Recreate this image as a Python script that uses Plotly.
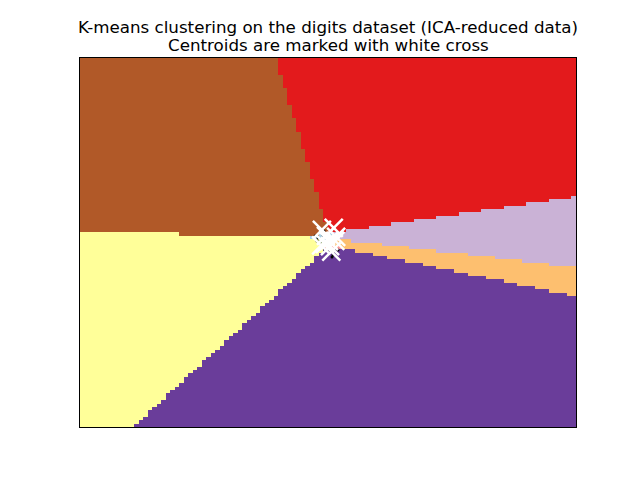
import numpy as np
import plotly.graph_objects as go

# K-means centroids in the ICA-reduced plane, one per cluster label 0..9
centroid_x = [-0.0089, 0.0044, -0.0133, 0.0089, 0.0255, 0.0322, 0.0361, 0.0147, -0.0303, -0.0271]
centroid_y = [0.0388, 0.0089, -0.0089, -0.0209, 0.0866, 0.0091, 0.0337, -0.0540, -0.0178, 0.0747]

# a few of the reduced data points that show between the crosses
point_x = [-0.0577, -0.0444, -0.0355, -0.0222, -0.0133, 0.0089, 0.0222, 0.0311, 0.0444, -0.0177, 0.0177, -0.0488]
point_y = [0.0387, 0.0268, -0.0030, 0.0447, -0.0447, -0.0507, -0.0745, -0.0507, -0.0447, 0.0686, -0.0865, 0.0089]

# mesh extent and step (as in the sklearn demo)
x_min, x_max = -1.1, 1.1
y_min, y_max = -1.1, 1.1
h = 0.02

# matplotlib "Paired" colours as picked by imshow for labels 0..9
label_colors = ["#a6cee3", "#1f78b4", "#b2df8a", "#fb9a99", "#e31a1c",
                "#fdbf6f", "#cab2d6", "#6a3d9a", "#ffff99", "#b15928"]

# decision regions: nearest centroid for every mesh cell
xx = np.arange(x_min, x_max, h) + h / 2
yy = np.arange(y_min, y_max, h) + h / 2
gx, gy = np.meshgrid(xx, yy)
cx, cy = np.array(centroid_x), np.array(centroid_y)
dist = (gx[..., None] - cx) ** 2 + (gy[..., None] - cy) ** 2
Z = dist.argmin(axis=-1)

colorscale = []
for i, c in enumerate(label_colors):
    colorscale += [[i / 10, c], [(i + 1) / 10, c]]

fig = go.Figure()
fig.add_trace(go.Heatmap(x=xx, y=yy, z=Z, zmin=-0.5, zmax=9.5,
                         colorscale=colorscale, showscale=False, hoverinfo="skip"))
fig.add_trace(go.Scatter(x=point_x, y=point_y, mode="markers",
                         marker=dict(size=3, color="black")))
fig.add_trace(go.Scatter(x=centroid_x, y=centroid_y, mode="markers",
                         marker=dict(symbol="x-thin", size=18,
                                     line=dict(width=2.5, color="white"))))

axis = dict(showticklabels=False, ticks="", showgrid=False, zeroline=False,
            showline=True, linecolor="black", linewidth=1, mirror=True)
fig.update_xaxes(range=[x_min, x_max], **axis)
fig.update_yaxes(range=[y_min, y_max], **axis)

title_font = dict(family="DejaVu Sans", size=16.7, color="black")
fig.add_annotation(text="K-means clustering on the digits dataset (ICA-reduced data)",
                   x=0.5, y=1.0827, xref="paper", yref="paper", yanchor="middle",
                   showarrow=False, font=title_font)
fig.add_annotation(text="Centroids are marked with white cross",
                   x=0.5, y=1.0352, xref="paper", yref="paper", yanchor="middle",
                   showarrow=False, font=title_font)

fig.update_layout(width=640, height=480, margin=dict(l=72, r=72, t=50, b=61),
                  showlegend=False, plot_bgcolor="white", paper_bgcolor="white")

fig.write_html("out.html")
